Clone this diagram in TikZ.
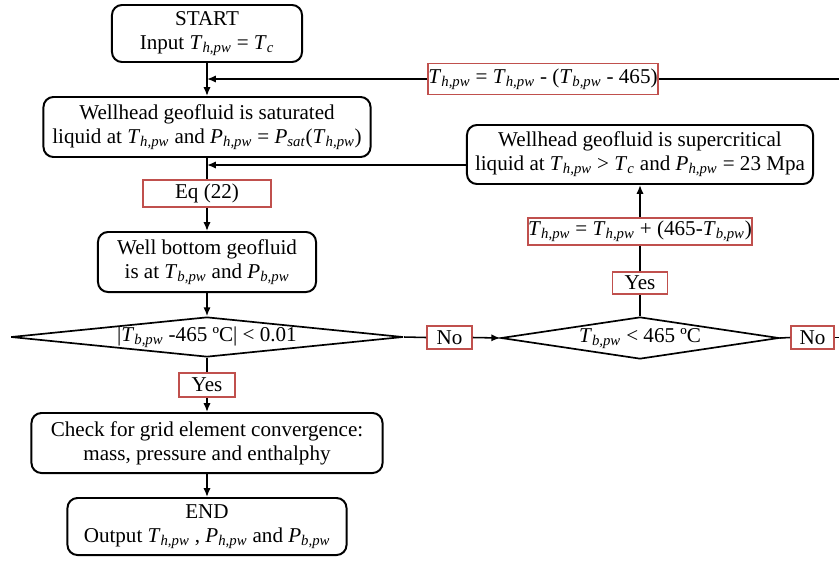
\documentclass[tikz,border=0pt]{standalone}
\usepackage{fontspec}
\setmainfont{Liberation Serif}
\usepackage{tikz}
\usetikzlibrary{shapes.geometric}
\usetikzlibrary{arrows.meta}
\usepackage{xcolor}
\definecolor{boxred}{RGB}{192,80,77}

\newcommand{\vr}[2]{\textit{#1}\textsubscript{\textit{#2}}}

\begin{document}
\begin{tikzpicture}[x=0.025cm,y=-0.025cm,
  every node/.style={font=\fontsize{15}{17}\selectfont, align=center, inner sep=0pt},
  stepbox/.style={draw, line width=1.4pt, rounded corners=0.25cm},
  redbox/.style={draw=boxred, line width=1.2pt},
  decision/.style={draw, line width=1.2pt, shape=diamond, aspect=10, text height=8pt, text depth=2pt},
  arr/.style={-{Latex[length=2.2mm,width=1.8mm]}, line width=1.1pt},
  ln/.style={line width=1.1pt}]

\useasboundingbox (0,0) rectangle (839,560);

% main column
\node[stepbox, minimum width=4.75cm, minimum height=1.425cm] (start) at (207,33.5) {START\\Input \vr{T}{h,pw} = \textit{T}\textsubscript{\textit{c}}};
\node[stepbox, minimum width=8.175cm, minimum height=1.5cm] (satur) at (207,127) {Wellhead geofluid is saturated\\liquid at \vr{T}{h,pw} and \vr{P}{h,pw} = \vr{P}{sat}(\vr{T}{h,pw})};
\node[redbox, minimum width=3.2cm, minimum height=0.675cm] (eq) at (207,193.5) {Eq (22)};
\node[stepbox, minimum width=5.45cm, minimum height=1.5cm] (bottom) at (207,262) {Well bottom geofluid\\is at \vr{T}{b,pw} and \vr{P}{b,pw}};
\node[decision, minimum width=9.8cm, minimum height=1.0cm] (dia1) at (207,337) {|\vr{T}{b,pw} -465 ºC| < 0.01};
\node[redbox, minimum width=1.4cm, minimum height=0.6cm] (yes1) at (207,385) {Yes};
\node[stepbox, minimum width=8.775cm, minimum height=1.5cm] (check) at (207,443) {Check for grid element convergence:\\mass, pressure and enthalphy};
\node[stepbox, minimum width=6.975cm, minimum height=1.425cm] (end) at (207,526.5) {END\\Output \vr{T}{h,pw} , \vr{P}{h,pw} and \vr{P}{b,pw}};

% right column
\node[redbox, minimum width=1.125cm, minimum height=0.575cm] (no1) at (449.5,337.5) {No};
\node[decision, minimum width=6.95cm, minimum height=1.05cm] (dia2) at (640,338) {\vr{T}{b,pw} < 465 ºC};
\node[redbox, minimum width=1.075cm, minimum height=0.575cm] (no2) at (812.5,337.5) {No};
\node[redbox, minimum width=1.375cm, minimum height=0.55cm] (yes2) at (640,283) {Yes};
\node[redbox, minimum width=5.6cm, minimum height=0.675cm] (form2) at (640,231.5) {\vr{T}{h,pw} = \vr{T}{h,pw} + (465-\vr{T}{b,pw})};
\node[stepbox, minimum width=8.65cm, minimum height=1.475cm] (super) at (640,154.5) {Wellhead geofluid is supercritical\\liquid at \vr{T}{h,pw} > \textit{T}\textsubscript{\textit{c}} and \vr{P}{h,pw} = 23 Mpa};
\node[redbox, minimum width=5.75cm, minimum height=0.775cm] (form1) at (543,79) {\vr{T}{h,pw} = \vr{T}{h,pw} - (\vr{T}{b,pw} - 465)};

\coordinate (rtop) at (839,79);
\coordinate (rno) at (839,337.5);
\coordinate (j2) at (207,165);

% connectors
\draw[arr] (start) -- (satur);
\draw[ln] (satur) -- (eq);
\draw[arr] (eq) -- (bottom);
\draw[arr] (bottom) -- (dia1);
\draw[ln] (dia1) -- (yes1);
\draw[arr] (yes1) -- (check);
\draw[arr] (check) -- (end);

\draw[ln] (dia1.east) -- (no1.west);
\draw[arr] (no1.east) -- (dia2.west);
\draw[ln] (dia2.east) -- (no2.west);
\draw[ln] (no2.east) -- (rno);
\draw[ln] (dia2.north) -- (yes2.south);
\draw[ln] (yes2.north) -- (form2.south);
\draw[arr] (form2.north) -- (super.south);

\draw[ln] (rtop) -- (form1.east);
\draw[arr] (form1.west) -- (form1.west -| start.south);
\draw[arr] (super.west |- j2) -- (j2);

\end{tikzpicture}
\end{document}
